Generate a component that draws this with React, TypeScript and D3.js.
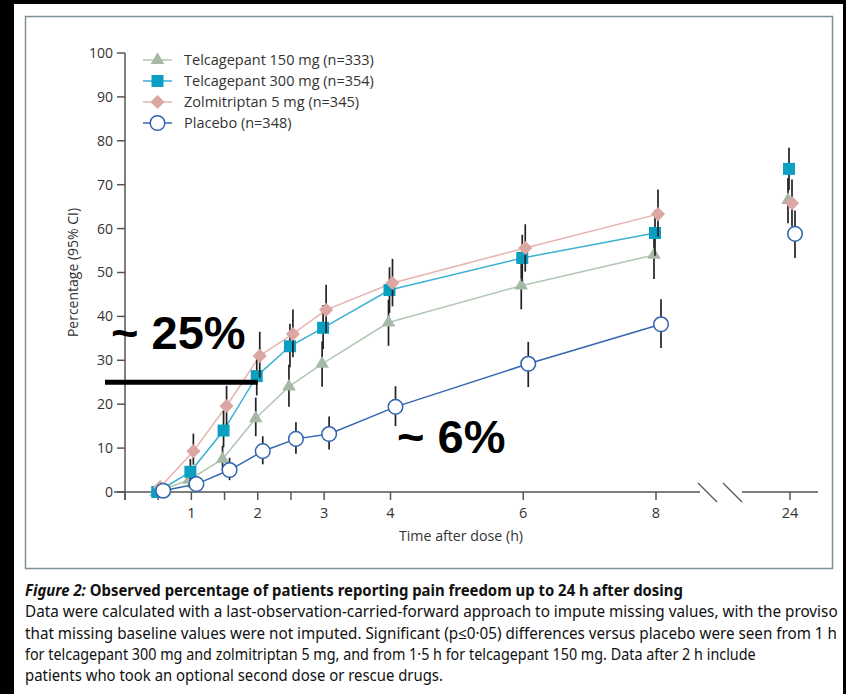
import React, { useEffect, useRef } from 'react';
import * as d3 from 'd3';

// time points (h)
const times = [0.5, 1, 1.5, 2, 2.5, 3, 4, 6, 8, 24];
const xTickValues = [0, 0.5, 1, 1.5, 2, 2.5, 3, 4, 6, 8, 24];
const xTickLabels = ['', '', '1', '', '2', '', '3', '4', '6', '8', '24'];
const yTickValues = [0, 10, 20, 30, 40, 50, 60, 70, 80, 90, 100];

const tel150 = [0, 2.8, 7.5, 16.8, 24, 29.2, 38.6, 47, 54, 66.5];
const tel150Lo = [0, 1, 4.8, 12.7, 19.4, 24, 33.3, 41.6, 48.5, 61.2];
const tel150Hi = [0, 4.8, 10.5, 21.5, 29, 34.3, 43.8, 52.4, 59.4, 71.5];

const tel300 = [0, 4.6, 14, 26.4, 33.2, 37.4, 46, 53.3, 59, 73.6];
const tel300Lo = [0, 2.5, 10.2, 22, 28.4, 32.6, 40.8, 48, 53.8, 68.8];
const tel300Hi = [0, 7.5, 18.5, 31.2, 38.3, 42.6, 51.2, 58.6, 64.2, 78.4];

const zolmi = [1.1, 9.3, 19.6, 31, 36, 41.5, 47.6, 55.6, 63.3, 65.8];
const zolmiLo = [0, 6.2, 15.3, 26, 30.7, 36.2, 42.3, 50.2, 58.2, 60.5];
const zolmiHi = [2.2, 13.3, 24.2, 36.5, 41.6, 47.2, 53.1, 61, 68.9, 71.2];

const placebo = [0.3, 1.8, 5, 9.3, 12.1, 13.2, 19.4, 29.2, 38.2, 58.8];
const placeboLo = [0, 0.5, 2.7, 6.3, 8.7, 9.7, 15, 23.9, 32.8, 53.3];
const placeboHi = [0.9, 3.3, 7.8, 12.7, 15.9, 17.2, 24.1, 34.2, 43.9, 64.1];

const seriesNames = [
  'Telcagepant 150 mg (n=333)',
  'Telcagepant 300 mg (n=354)',
  'Zolmitriptan 5 mg (n=345)',
  'Placebo (n=348)',
];

const captionLines = [
  'Data were calculated with a last-observation-carried-forward approach to impute missing values, with the proviso',
  'that missing baseline values were not imputed. Significant (p\u22640\u00b705) differences versus placebo were seen from 1 h',
  'for telcagepant 300 mg and zolmitriptan 5 mg, and from 1\u00b75 h for telcagepant 150 mg. Data after 2 h include',
  'patients who took an optional second dose or rescue drugs.',
];

function App() {
  const svgRef = useRef(null);

  useEffect(() => {
    const width = 846;
    const height = 694;
    const svg = d3.select(svgRef.current);
    svg.selectAll('*').remove();
    svg.attr('width', width).attr('height', height);

    const font = "'Open Sans', 'DejaVu Sans', sans-serif";
    const axisColor = '#555';
    const textColor = '#333';

    // page frame
    svg.append('rect').attr('width', width).attr('height', height).attr('fill', '#000');
    svg.append('rect').attr('x', 14).attr('y', 4).attr('width', 829).attr('height', 690).attr('fill', '#fff');
    svg.append('rect').attr('x', 25.5).attr('y', 16.5).attr('width', 807).attr('height', 552)
      .attr('fill', '#fff').attr('stroke', '#7d9298').attr('stroke-width', 1.5);

    const x = d3.scaleLinear().domain([0, 8, 24]).range([125, 656, 790]);
    const y = d3.scaleLinear().domain([0, 100]).range([492, 53]);

    const g = svg.append('g');

    // y axis
    g.append('line').attr('x1', x(0)).attr('x2', x(0)).attr('y1', y(100)).attr('y2', y(0) + 8)
      .attr('stroke', axisColor).attr('stroke-width', 1.5);
    yTickValues.forEach(v => {
      g.append('line').attr('x1', x(0) - 8).attr('x2', x(0)).attr('y1', y(v)).attr('y2', y(v))
        .attr('stroke', axisColor).attr('stroke-width', 1.5);
      g.append('text').attr('x', x(0) - 12).attr('y', y(v)).attr('dy', '0.35em')
        .attr('text-anchor', 'end').attr('font-family', font).attr('font-size', 14)
        .attr('fill', textColor).text(v);
    });
    g.append('text')
      .attr('transform', `translate(78,${(y(0) + y(100)) / 2}) rotate(-90)`)
      .attr('text-anchor', 'middle').attr('font-family', font).attr('font-size', 14)
      .attr('fill', textColor).text('Percentage (95% CI)');

    // x axis with break
    g.append('line').attr('x1', x(0) - 11).attr('x2', 700).attr('y1', y(0)).attr('y2', y(0))
      .attr('stroke', axisColor).attr('stroke-width', 1.5);
    g.append('line').attr('x1', 742).attr('x2', 818).attr('y1', y(0)).attr('y2', y(0))
      .attr('stroke', axisColor).attr('stroke-width', 1.5);
    [698, 723].forEach(bx => {
      g.append('line').attr('x1', bx).attr('x2', bx + 19).attr('y1', y(0) - 9).attr('y2', y(0) + 10)
        .attr('stroke', axisColor).attr('stroke-width', 1.3);
    });
    xTickValues.forEach((v, i) => {
      g.append('line').attr('x1', x(v)).attr('x2', x(v)).attr('y1', y(0)).attr('y2', y(0) + 8)
        .attr('stroke', axisColor).attr('stroke-width', 1.5);
      if (xTickLabels[i]) {
        g.append('text').attr('x', x(v)).attr('y', y(0) + 26)
          .attr('text-anchor', 'middle').attr('font-family', font).attr('font-size', 14.5)
          .attr('fill', textColor).text(xTickLabels[i]);
      }
    });
    g.append('text').attr('x', 461).attr('y', 541)
      .attr('text-anchor', 'middle').attr('font-family', font).attr('font-size', 14.2)
      .attr('fill', textColor).text('Time after dose (h)');

    const series = [
      { name: seriesNames[0], vals: tel150, lo: tel150Lo, hi: tel150Hi, color: '#a4baa6', line: '#b3c7b5', shape: 'triangle', dx: -2 },
      { name: seriesNames[1], vals: tel300, lo: tel300Lo, hi: tel300Hi, color: '#0ba0c2', line: '#3bb1d1', shape: 'square', dx: -1 },
      { name: seriesNames[2], vals: zolmi, lo: zolmiLo, hi: zolmiHi, color: '#dca6a2', line: '#e6b3b0', shape: 'diamond', dx: 2 },
      { name: seriesNames[3], vals: placebo, lo: placeboLo, hi: placeboHi, color: '#2f63ae', line: '#3567b1', shape: 'circle', dx: 5 },
    ];

    const drawMarker = (sel, s, cx, cy) => {
      if (s.shape === 'circle') {
        sel.append('circle').attr('cx', cx).attr('cy', cy).attr('r', 7.3)
          .attr('fill', '#fff').attr('stroke', s.color).attr('stroke-width', 1.5);
      } else if (s.shape === 'triangle') {
        sel.append('path').attr('d', d3.symbol().type(d3.symbolTriangle).size(80)())
          .attr('transform', `translate(${cx},${cy})`).attr('fill', s.color);
      } else if (s.shape === 'square') {
        sel.append('path').attr('d', d3.symbol().type(d3.symbolSquare).size(144)())
          .attr('transform', `translate(${cx},${cy})`).attr('fill', s.color);
      } else {
        sel.append('path').attr('d', d3.symbol().type(d3.symbolSquare).size(100)())
          .attr('transform', `translate(${cx},${cy}) rotate(45)`).attr('fill', s.color);
      }
    };

    // connecting lines (up to 8 h)
    series.forEach(s => {
      const pts = times.map((t, i) => [x(t) + s.dx, y(s.vals[i])]).filter((p, i) => times[i] <= 8);
      g.append('path').attr('d', d3.line()(pts)).attr('fill', 'none')
        .attr('stroke', s.line).attr('stroke-width', 1.5);
    });

    // error bars and markers
    series.forEach(s => {
      const sg = g.append('g');
      times.forEach((t, i) => {
        if (s.hi[i] - s.lo[i] > 0.5) {
          sg.append('line').attr('x1', x(t) + s.dx).attr('x2', x(t) + s.dx)
            .attr('y1', y(s.lo[i])).attr('y2', y(s.hi[i]))
            .attr('stroke', '#222').attr('stroke-width', 1.7);
        }
      });
      times.forEach((t, i) => drawMarker(sg, s, x(t) + s.dx, y(s.vals[i])));
    });

    // legend
    const lg = svg.append('g');
    series.forEach((s, i) => {
      const ly = 60 + i * 21;
      lg.append('line').attr('x1', 143).attr('x2', 172).attr('y1', ly).attr('y2', ly)
        .attr('stroke', s.line).attr('stroke-width', 1.5);
      drawMarker(lg, s, 157.5, ly);
      lg.append('text').attr('x', 184).attr('y', ly).attr('dy', '0.35em')
        .attr('font-family', font).attr('font-size', 14.5).attr('fill', textColor).text(s.name);
    });

    // annotations
    const ann = svg.append('g');
    ann.append('line').attr('x1', x(0) - 20).attr('x2', x(2)).attr('y1', y(25)).attr('y2', y(25))
      .attr('stroke', '#000').attr('stroke-width', 5);
    ann.append('text').attr('x', 111).attr('y', 349).attr('font-family', "'Liberation Sans', Arial, sans-serif")
      .attr('font-weight', 'bold').attr('font-size', 47).attr('fill', '#000').text('~ 25%');
    ann.append('text').attr('x', 397).attr('y', 453).attr('font-family', "'Liberation Sans', Arial, sans-serif")
      .attr('font-weight', 'bold').attr('font-size', 47).attr('fill', '#000').text('~ 6%');

    // caption: condensed by horizontal scaling to fit the reference line widths
    const capFont = "'Noto Sans', 'Open Sans', sans-serif";
    const cap = svg.append('g').attr('font-family', capFont).attr('fill', '#111');
    const capTexts = [];
    const t1 = cap.append('text').attr('x', 0).attr('y', 0).attr('font-size', 15.5).attr('font-weight', 'bold');
    t1.append('tspan').attr('font-style', 'italic').text('Figure 2: ');
    t1.append('tspan').text('Observed percentage of patients reporting pain freedom up to 24 h after dosing');
    capTexts.push({ node: t1, baseline: 596, right: 683 });
    const lineEnds = [837, 837, 755, 443];
    captionLines.forEach((line, i) => {
      const t = cap.append('text').attr('x', 0).attr('y', 0).attr('font-size', 15.5).text(line);
      capTexts.push({ node: t, baseline: 617.3 + i * 21.3, right: lineEnds[i] });
    });
    const fitAll = () => {
      capTexts.forEach(c => {
        const w = c.node.node().getBBox().width;
        const s = w > 0 ? (c.right - 25) / w : 1;
        c.node.attr('transform', `translate(25,${c.baseline}) scale(${s},1)`);
      });
    };
    fitAll();
    if (document.fonts && document.fonts.ready) document.fonts.ready.then(fitAll);
    const timer = setTimeout(fitAll, 300);
    return () => clearTimeout(timer);
  }, []);

  return (
    <svg ref={svgRef} style={{ position: 'absolute', left: 0, top: 0, display: 'block' }}></svg>
  );
}

export default App;
